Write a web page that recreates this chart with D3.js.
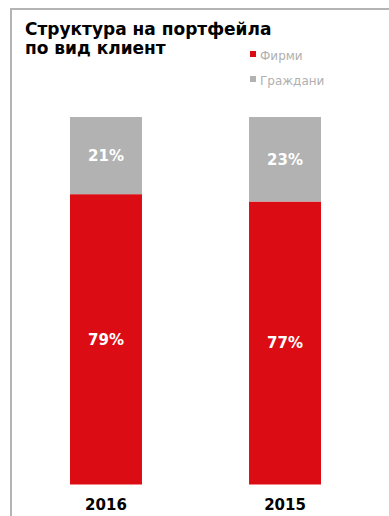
<!DOCTYPE html>
<html>
<head>
<meta charset="utf-8">
<script src="https://cdn.jsdelivr.net/npm/d3@7"></script>
<style>
  html, body { margin: 0; padding: 0; background: #fff; }
  svg { display: block; }
</style>
</head>
<body>
<script>
// Portfolio structure by client type
const years = ["2016", "2015"];
const firms = [79, 77];      // Фирми, %
const citizens = [21, 23];   // Граждани, %
const seriesNames = ["Фирми", "Граждани"];
const seriesColors = ["#dc0c15", "#b2b2b2"];

const W = 389, H = 516;
const svg = d3.select("body").append("svg").attr("width", W).attr("height", H);

// frame lines (top and left)
svg.append("line").attr("x1", 11).attr("x2", W).attr("y1", 9).attr("y2", 9)
  .attr("stroke", "#b4b4b4").attr("stroke-width", 2);
svg.append("line").attr("x1", 11).attr("x2", 11).attr("y1", 8).attr("y2", H)
  .attr("stroke", "#b4b4b4").attr("stroke-width", 2);

// title
const title = svg.append("text")
  .attr("font-family", "Verdana, 'DejaVu Sans', sans-serif")
  .attr("font-weight", "bold").attr("font-size", 17).attr("fill", "#000");
title.append("tspan").attr("x", 25).attr("y", 35).text("Структура на портфейла");
title.append("tspan").attr("x", 25).attr("y", 54).text("по вид клиент");

// legend
const legend = svg.append("g");
seriesNames.forEach((name, i) => {
  const y = 51 + i * 25;
  legend.append("rect").attr("x", 250).attr("y", y).attr("width", 6).attr("height", 6)
    .attr("fill", seriesColors[i]);
  legend.append("text").attr("x", 260).attr("y", y + 9)
    .attr("font-family", "Tahoma, 'DejaVu Sans', sans-serif").attr("font-size", 12)
    .attr("fill", "#b0b0b0").text(name);
});

// scales
const x = d3.scaleBand().domain(years).range([70, 321]).paddingInner(0.598).paddingOuter(0);
const y = d3.scaleLinear().domain([0, 100]).range([484.5, 117]);

const data = years.map((yr, i) => ({ year: yr, firms: firms[i], citizens: citizens[i] }));
const stack = d3.stack().keys(["firms", "citizens"])(data);

const layers = svg.selectAll("g.layer").data(stack).join("g").attr("class", "layer")
  .attr("fill", (d, i) => seriesColors[i]);
layers.selectAll("rect").data(d => d).join("rect")
  .attr("x", d => x(d.data.year))
  .attr("width", x.bandwidth())
  .attr("y", d => y(d[1]))
  .attr("height", d => y(d[0]) - y(d[1]));

// value labels
layers.selectAll("text").data(d => d).join("text")
  .attr("x", d => x(d.data.year) + x.bandwidth() / 2)
  .attr("y", d => (y(d[0]) + y(d[1])) / 2)
  .attr("dy", "0.35em")
  .attr("text-anchor", "middle")
  .attr("font-family", "Verdana, 'DejaVu Sans', sans-serif")
  .attr("font-weight", "bold").attr("font-size", 15).attr("fill", "#fff")
  .text(d => (d[1] - d[0]) + "%");

// category axis labels
svg.append("g").selectAll("text").data(years).join("text")
  .attr("x", d => x(d) + x.bandwidth() / 2)
  .attr("y", 510)
  .attr("text-anchor", "middle")
  .attr("font-family", "Verdana, 'DejaVu Sans', sans-serif")
  .attr("font-weight", "bold").attr("font-size", 15).attr("fill", "#000")
  .text(d => d);
</script>
</body>
</html>
